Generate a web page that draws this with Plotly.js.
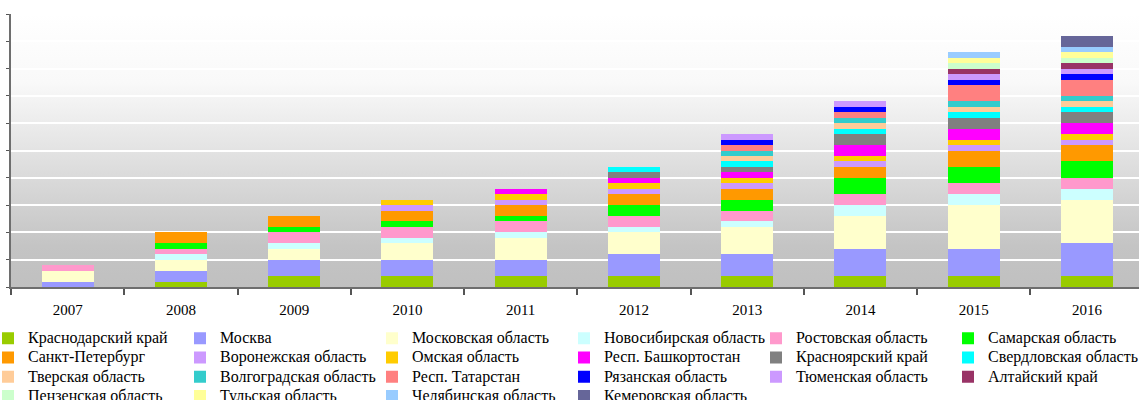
<!DOCTYPE html>
<html>
<head>
<meta charset="utf-8">
<script src="https://cdn.plot.ly/plotly-3.0.1.min.js"></script>
<style>
html, body { margin: 0; padding: 0; overflow: hidden; background: #ffffff; }
#chart { width: 1300px; height: 400px; }
</style>
</head>
<body>
<div id="chart"></div>
<script>
// Categories (years)
const years = ['2007', '2008', '2009', '2010', '2011', '2012', '2013', '2014', '2015', '2016'];

// Series (regions), in stacking order bottom -> top
const regions = [
  'Краснодарский край', 'Москва', 'Московская область', 'Новосибирская область',
  'Ростовская область', 'Самарская область', 'Санкт-Петербург', 'Воронежская область',
  'Омская область', 'Респ. Башкортостан', 'Красноярский край', 'Свердловская область',
  'Тверская область', 'Волгоградская область', 'Респ. Татарстан', 'Рязанская область',
  'Тюменская область', 'Алтайский край', 'Пензенская область', 'Тульская область',
  'Челябинская область', 'Кемеровская область'
];

// Values per region, one per year (2007..2016)
const krasnodar    = [0, 1, 2, 2, 2, 2, 2, 2, 2, 2];
const moskva       = [1, 2, 3, 3, 3, 4, 4, 5, 5, 6];
const moskObl      = [2, 2, 2, 3, 4, 4, 5, 6, 8, 8];
const novosib      = [0, 1, 1, 1, 1, 1, 1, 2, 2, 2];
const rostov       = [1, 1, 2, 2, 2, 2, 2, 2, 2, 2];
const samara       = [0, 1, 1, 1, 1, 2, 2, 3, 3, 3];
const spb          = [0, 2, 2, 2, 2, 2, 2, 2, 3, 3];
const voronezh     = [0, 0, 0, 1, 1, 1, 1, 1, 1, 1];
const omsk         = [0, 0, 0, 1, 1, 1, 1, 1, 1, 1];
const bashkort     = [0, 0, 0, 0, 1, 1, 1, 2, 2, 2];
const krasnoyarsk  = [0, 0, 0, 0, 0, 1, 1, 2, 2, 2];
const sverdlovsk   = [0, 0, 0, 0, 0, 1, 1, 1, 1, 1];
const tver         = [0, 0, 0, 0, 0, 0, 1, 1, 1, 1];
const volgograd    = [0, 0, 0, 0, 0, 0, 1, 1, 1, 1];
const tatarstan    = [0, 0, 0, 0, 0, 0, 1, 1, 3, 3];
const ryazan       = [0, 0, 0, 0, 0, 0, 1, 1, 1, 1];
const tyumen       = [0, 0, 0, 0, 0, 0, 1, 1, 1, 1];
const altai        = [0, 0, 0, 0, 0, 0, 0, 0, 1, 1];
const penza        = [0, 0, 0, 0, 0, 0, 0, 0, 1, 1];
const tula         = [0, 0, 0, 0, 0, 0, 0, 0, 1, 1];
const chelyabinsk  = [0, 0, 0, 0, 0, 0, 0, 0, 1, 1];
const kemerovo     = [0, 0, 0, 0, 0, 0, 0, 0, 0, 2];

const seriesValues = [
  krasnodar, moskva, moskObl, novosib, rostov, samara, spb, voronezh, omsk, bashkort,
  krasnoyarsk, sverdlovsk, tver, volgograd, tatarstan, ryazan, tyumen, altai, penza,
  tula, chelyabinsk, kemerovo
];

const colors = [
  '#99CC00', '#9999FF', '#FFFFCC', '#CCFFFF', '#FF99CC', '#00FF00', '#FF9900', '#CC99FF',
  '#FFCC00', '#FF00FF', '#808080', '#00FFFF', '#FFCC99', '#33CCCC', '#FF8080', '#0000FF',
  '#CC99FF', '#993366', '#CCFFCC', '#FFFF99', '#99CCFF', '#666699'
];

const serif = '"Liberation Serif", "Times New Roman", serif';

// Figure geometry: the plot area runs past the 1139px window on the right (as in the original),
// so the axis extends slightly beyond the last category and is clipped by the window.
const FIG_W = 1300;
const M_L = 11, M_R = 39;
const PLOT_W = FIG_W - M_L - M_R;
const CAT_W = 113.25;

const traces = regions.map((name, i) => ({
  type: 'bar',
  name: '<span style="font-size:16px">' + name + '</span>',
  x: years,
  y: seriesValues[i],
  marker: { color: colors[i], line: { width: 0 } },
  hovertemplate: name + ': %{y}<extra></extra>'
}));

const gradSvg = '<svg xmlns="http://www.w3.org/2000/svg" width="100" height="100" preserveAspectRatio="none">' +
  '<defs><linearGradient id="g" x1="0" y1="0" x2="0" y2="1">' +
  '<stop offset="0" stop-color="#ffffff"/>' +
  '<stop offset="0.25" stop-color="#f9f9f9"/>' +
  '<stop offset="0.85" stop-color="#c4c4c4"/>' +
  '<stop offset="1" stop-color="#c0c0c0"/>' +
  '</linearGradient></defs><rect width="100" height="100" fill="url(#g)"/></svg>';
const gradSrc = 'data:image/svg+xml;charset=utf-8,' + encodeURIComponent(gradSvg);

const layout = {
  width: FIG_W,
  height: 400,
  margin: { l: M_L, r: M_R, t: 14, b: 113, pad: 0 },
  barmode: 'stack',
  bargap: 0.54,
  paper_bgcolor: '#ffffff',
  plot_bgcolor: 'rgba(0,0,0,0)',
  showlegend: true,
  images: [{
    source: gradSrc, xref: 'paper', yref: 'paper', x: 0, y: 1, sizex: 1, sizey: 1,
    xanchor: 'left', yanchor: 'top', sizing: 'stretch', layer: 'below'
  }],
  xaxis: {
    type: 'category',
    range: [-0.5, -0.5 + PLOT_W / CAT_W],
    showline: true, linecolor: '#6e6e6e', linewidth: 2,
    ticks: 'outside', tickson: 'boundaries', ticklen: 6, tickcolor: '#555555', tickwidth: 1.5,
    showgrid: false, zeroline: false,
    tickfont: { family: serif, size: 15, color: '#000000' },
    ticklabelstandoff: 8,
    fixedrange: true
  },
  yaxis: {
    range: [0, 50], dtick: 5,
    showline: true, linecolor: '#6e6e6e', linewidth: 2,
    ticks: 'outside', ticklen: 3, tickcolor: '#555555',
    showticklabels: false,
    showgrid: true, gridcolor: '#ffffff', gridwidth: 1.5,
    zeroline: false,
    fixedrange: true
  },
  legend: {
    orientation: 'h',
    xref: 'container', yref: 'container',
    x: -2 / FIG_W, xanchor: 'left',
    y: 0.191, yanchor: 'top',
    entrywidth: 159, entrywidthmode: 'pixels',
    indentation: -12,
    traceorder: 'normal',
    font: { family: serif, size: 12.5, color: '#000000' },
    bgcolor: 'rgba(0,0,0,0)',
    tracegroupgap: 0
  }
};

Plotly.newPlot('chart', traces, layout, { displayModeBar: false });
</script>
</body>
</html>
